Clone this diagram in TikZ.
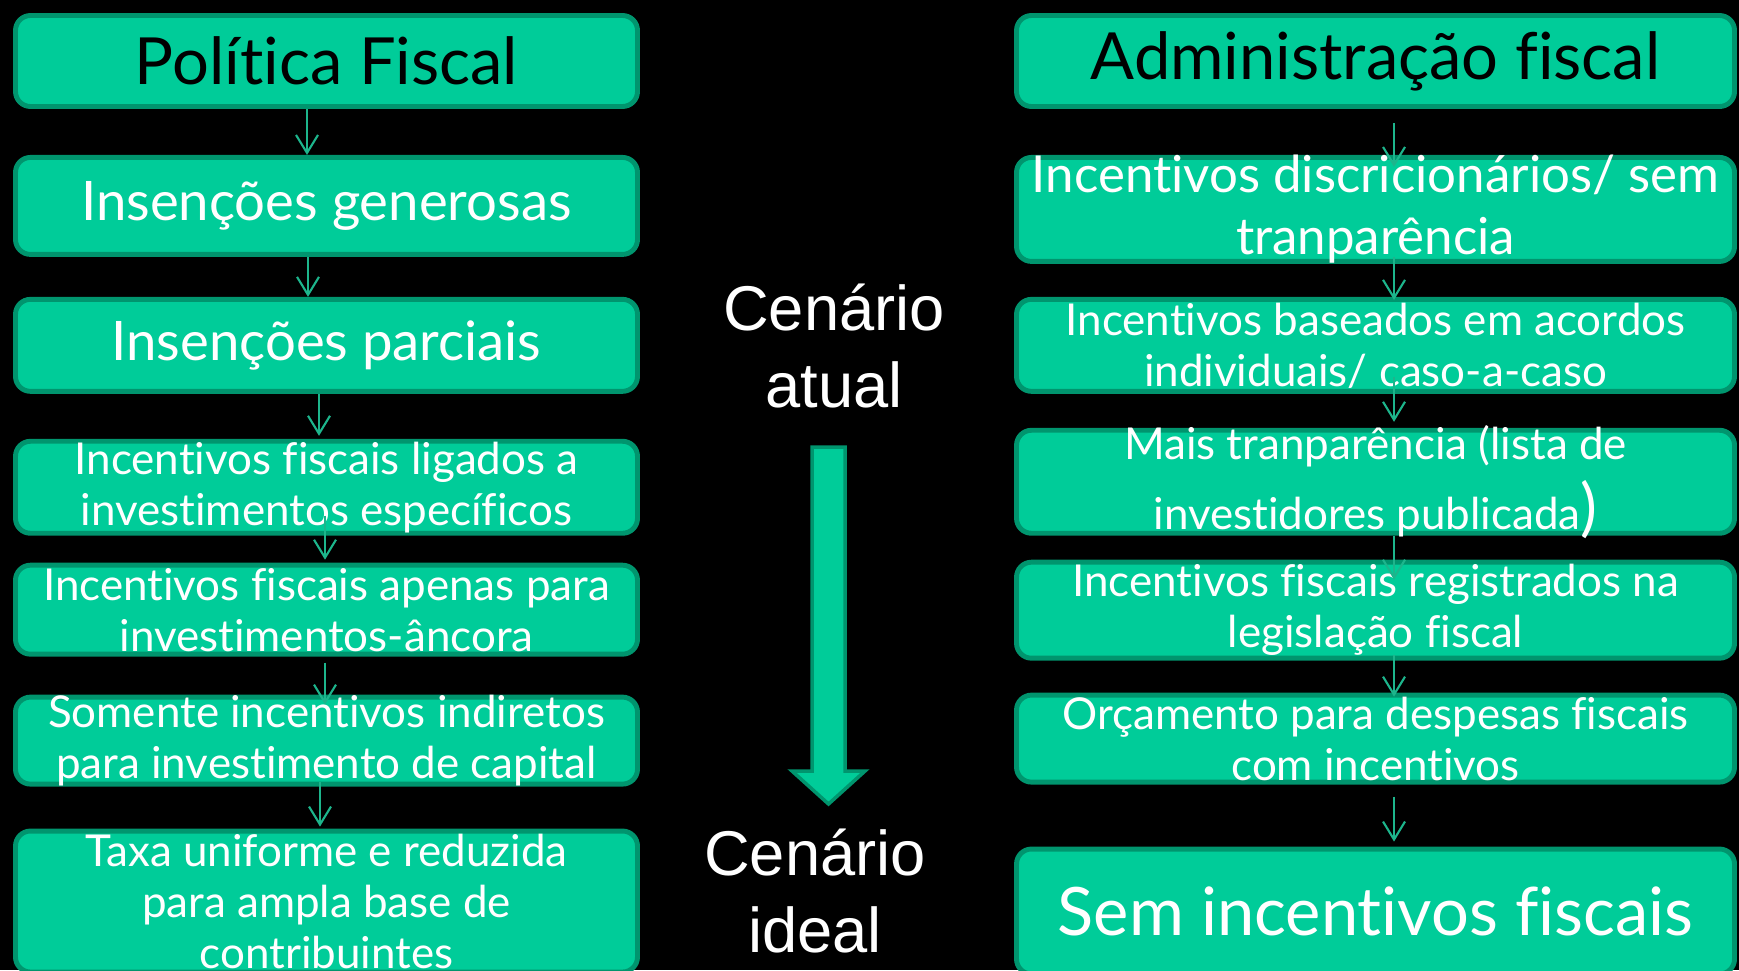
\documentclass[tikz,border=0pt]{standalone}
\usepackage{fontspec}
\setmainfont{Liberation Sans}
\newfontfamily\boxfont[Ligatures={NoCommon,NoContextual}]{Lato}
\usetikzlibrary{arrows.meta}
\usetikzlibrary{positioning}
\definecolor{boxgreen}{HTML}{00CC99}
\definecolor{boxedge}{HTML}{00956E}
\definecolor{linkgreen}{HTML}{1DB58C}
\tikzset {
  % flow boxes
  stage/.style = {
    draw = boxedge,
    line width = 1.4pt,
    fill = boxgreen,
    rounded corners = 1.5mm,
    align = center,
    inner xsep = 0pt,
    inner ysep = -2mm,
    text = white
  },
  left stage/.style = {
    stage,
    minimum width = 6.22cm
  },
  right stage/.style = {
    stage,
    minimum width = 7.18cm
  },
  title text/.style = {
    text = black,
    font = \boxfont\fontsize{18.5}{22}\selectfont
  },
  large text/.style = {
    font = \boxfont\fontsize{15.5}{18}\selectfont
  },
  small text/.style = {
    font = \boxfont\fontsize{12.5}{14.5}\selectfont
  },
  % thin arrows between boxes
  link/.style = {
    draw = linkgreen,
    line width = 0.6pt,
    -{Straight Barb[length=1.8mm,width=2.2mm]}
  },
  scene/.style = {
    text = white,
    align = center,
    font = \fontsize{18}{21.8}\selectfont
  }
}
\begin{document}
\begin{tikzpicture}
  \fill[black] (0,0) rectangle (17.39,-9.70);
  \useasboundingbox (0,0) rectangle (17.39,-9.70);

  % left column
  \node[left stage, title text, minimum height=0.91cm] (politica) at (3.265,-0.61) {Política Fiscal};
  \node[left stage, large text, minimum height=0.97cm] (generosas) [below=4.6mm of politica] {Insenções generosas};
  \node[left stage, large text, minimum height=0.92cm] (parciais) [below=4.0mm of generosas] {Insenções parciais};
  \node[left stage, small text, minimum height=0.92cm] (ligados) [below=4.5mm of parciais] {Incentivos fiscais ligados a\\investimentos específicos};
  \node[left stage, small text, minimum height=0.89cm] (ancora) [below=2.7mm of ligados] {Incentivos fiscais apenas para\\investimentos-âncora};
  \node[left stage, small text, minimum height=0.87cm] (indiretos) [below=3.8mm of ancora] {Somente incentivos indiretos\\para investimento de capital};
  \node[left stage, small text, minimum height=1.41cm] (taxa) [below=4.2mm of indiretos] {Taxa uniforme e reduzida\\para ampla base de\\contribuintes};

  % right column
  \node[right stage, title text, minimum height=0.91cm] (admin) at (13.755,-0.61) {Administração fiscal};
  \node[right stage, font=\boxfont\fontsize{14.5}{17.6}\selectfont, minimum height=1.04cm] (discricionarios) [below=4.6mm of admin] {Incentivos discricionários/ sem\\tranparência};
  \node[right stage, small text, minimum height=0.92cm] (acordos) [below=3.3mm of discricionarios] {Incentivos baseados em acordos\\individuais/ caso-a-caso};
  \node[right stage, font=\boxfont\fontsize{12.5}{19.9}\selectfont, minimum height=1.03cm] (lista) [below=3.4mm of acordos] {Mais tranparência (lista de\\investidores publicada{\fontsize{18}{18}\selectfont)}};
  \node[right stage, small text, minimum height=0.96cm] (registrados) [below=2.4mm of lista] {Incentivos fiscais registrados na\\legislação fiscal};
  \node[right stage, small text, minimum height=0.87cm] (orcamento) [below=3.2mm of registrados] {Orçamento para despesas fiscais\\com incentivos};
  \node[right stage, font=\boxfont\fontsize{19}{22}\selectfont, minimum height=1.25cm] (semincentivos) [below=6.2mm of orcamento] {Sem incentivos fiscais};

  \draw[link] ([xshift=-1.95mm]politica.south) -- ([xshift=-1.95mm]generosas.north);
  \draw[link] ([xshift=-1.85mm]generosas.south) -- ([xshift=-1.85mm]parciais.north);
  \draw[link, shorten >=0.3mm] ([xshift=-0.75mm]parciais.south) -- ([xshift=-0.75mm]ligados.north);
  \draw[link, shorten <=-2mm, shorten >=0.3mm] ([xshift=-0.15mm]ligados.south) -- ([xshift=-0.15mm]ancora.north);
  \draw[link, shorten <=0.6mm, shorten >=-1mm] ([xshift=-0.15mm]ancora.south) -- ([xshift=-0.15mm]indiretos.north);
  \draw[link, shorten <=-0.5mm, shorten >=0.2mm] ([xshift=-0.65mm]indiretos.south) -- ([xshift=-0.65mm]taxa.north);

  \draw[link, shorten <=1.4mm, shorten >=-1.2mm] ([xshift=1.85mm]admin.south) -- ([xshift=1.85mm]discricionarios.north);
  \draw[link, shorten <=-0.7mm, shorten >=-0.3mm] ([xshift=1.85mm]discricionarios.south) -- ([xshift=1.85mm]acordos.north);
  \draw[link, shorten <=-1.7mm, shorten >=0.6mm] ([xshift=1.85mm]acordos.south) -- ([xshift=1.85mm]lista.north);
  \draw[link, shorten >=-2mm] ([xshift=1.85mm]lista.south) -- ([xshift=1.85mm]registrados.north);
  \draw[link, shorten <=-0.6mm, shorten >=-0.4mm] ([xshift=1.85mm]registrados.south) -- ([xshift=1.85mm]orcamento.north);
  \draw[link, shorten <=1.2mm, shorten >=0.5mm] ([xshift=1.85mm]orcamento.south) -- ([xshift=1.85mm]semincentivos.north);

  % middle
  \node[scene] (atual) at (8.34,-3.46) {Cenário\\atual};
  \node[scene] (ideal) at (8.15,-8.91) {Cenário\\ideal};
  \draw[fill=boxgreen, draw=boxedge, line width=1pt]
    (8.12,-4.47) -- (8.45,-4.47) -- (8.45,-7.71) -- (8.65,-7.71)
    -- (8.285,-8.04) -- (7.92,-7.71) -- (8.12,-7.71) -- cycle;
\end{tikzpicture}
\end{document}
